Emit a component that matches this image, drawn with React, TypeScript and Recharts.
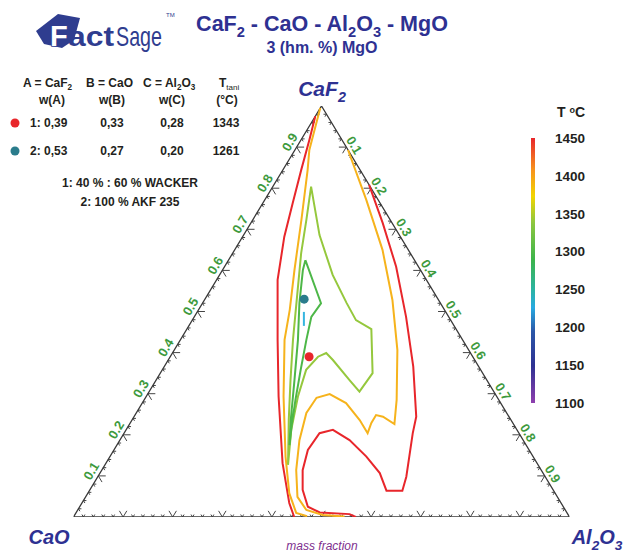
import React from 'react';
import { ComposedChart, Scatter, XAxis, YAxis, ReferenceLine, ReferenceArea } from 'recharts';

const FONT = '"Liberation Sans", Arial, Helvetica, sans-serif';

// ---- data ----
const vertexNames = ['CaF2', 'CaO', 'Al2O3'];
const tickValues = [0.1, 0.2, 0.3, 0.4, 0.5, 0.6, 0.7, 0.8, 0.9];
const tickLabels = ['0.1', '0.2', '0.3', '0.4', '0.5', '0.6', '0.7', '0.8', '0.9'];
const tempTicks = [1100, 1150, 1200, 1250, 1300, 1350, 1400, 1450];

const sampleIds = ['1', '2'];
const sampleA = [0.39, 0.53]; // w(CaF2)
const sampleB = [0.33, 0.27]; // w(CaO)
const sampleC = [0.28, 0.2]; // w(Al2O3)
const sampleT = [1343, 1261];
const sampleNotes = ['1: 40 % : 60 % WACKER', '2: 100 % AKF 235'];

// isotherms as [w(CaF2), w(Al2O3)]
const iso1450a = [[0.975, 0.0], [0.917, 0.017], [0.844, 0.037], [0.764, 0.06], [0.682, 0.084], [0.577, 0.123], [0.431, 0.196], [0.293, 0.267], [0.131, 0.356], [0.034, 0.418], [0.0, 0.445]];
const iso1450b = [[0.0, 0.569], [0.007, 0.553], [0.011, 0.491], [0.025, 0.46], [0.066, 0.429], [0.114, 0.405], [0.163, 0.391], [0.204, 0.394], [0.212, 0.417], [0.187, 0.463], [0.147, 0.517], [0.107, 0.564], [0.064, 0.599], [0.064, 0.631], [0.098, 0.622], [0.204, 0.582], [0.244, 0.569], [0.366, 0.502], [0.487, 0.427], [0.609, 0.346], [0.715, 0.266], [0.808, 0.192]];
const iso1400a = [[0.995, 0.0], [0.893, 0.029], [0.844, 0.05], [0.723, 0.098], [0.601, 0.145], [0.504, 0.184], [0.431, 0.21], [0.293, 0.277], [0.147, 0.354], [0.058, 0.406], [0.01, 0.444], [0.002, 0.47]];
const iso1400b = [[0.001, 0.546], [0.005, 0.5], [0.017, 0.461], [0.049, 0.427], [0.114, 0.392], [0.187, 0.362], [0.253, 0.343], [0.29, 0.345], [0.299, 0.367], [0.277, 0.411], [0.236, 0.459], [0.204, 0.491], [0.229, 0.486], [0.248, 0.486], [0.244, 0.502], [0.226, 0.534], [0.285, 0.509], [0.406, 0.45], [0.528, 0.379], [0.65, 0.298], [0.771, 0.205], [0.893, 0.107]];
const iso1350 = [[0.127, 0.369], [0.236, 0.316], [0.333, 0.271], [0.431, 0.227], [0.521, 0.189], [0.642, 0.138], [0.723, 0.108], [0.804, 0.077], [0.686, 0.153], [0.589, 0.228], [0.521, 0.29], [0.479, 0.33], [0.457, 0.372], [0.35, 0.428], [0.305, 0.424], [0.333, 0.39], [0.382, 0.332], [0.399, 0.31], [0.39, 0.298], [0.358, 0.29], [0.293, 0.306], [0.212, 0.333], [0.127, 0.369]];
const iso1300 = [[0.625, 0.155], [0.52, 0.239], [0.487, 0.236], [0.431, 0.254], [0.358, 0.279], [0.285, 0.305], [0.224, 0.328], [0.175, 0.348], [0.236, 0.32], [0.333, 0.279], [0.431, 0.237], [0.521, 0.195], [0.601, 0.162], [0.625, 0.155]];
const iso1250 = [[0.499, 0.215], [0.465, 0.232]];

// ---- styles ----
const isoStyles = [
  { data: iso1450a, color: '#e8262b' },
  { data: iso1450b, color: '#e8262b' },
  { data: iso1400a, color: '#f6b31c' },
  { data: iso1400b, color: '#f6b31c' },
  { data: iso1350, color: '#95c83d' },
  { data: iso1300, color: '#4db748' },
  { data: iso1250, color: '#35b5e0' },
];
const sampleColors = ['#e8262b', '#2a7c8c'];
const BLUE = '#2e3192';
const LOGO = '#2f3d8f';
const GREEN = '#3d9a3d';

// ternary (A = CaF2, C = Al2O3) -> cartesian
const toXY = (a: number, c: number) => ({ x: c + a / 2, y: a });

const triangle = [toXY(1, 0), toXY(0, 0), toXY(0, 1), toXY(1, 0)];

type Seg = [{ x: number; y: number }, { x: number; y: number }];
function buildTicks(): Seg[] {
  const segs: Seg[] = [];
  for (let i = 1; i < 50; i++) {
    const v = i / 50;
    const major = i % 5 === 0;
    const L = major ? 0.015 : 0.006;
    const bx = 1 - v;
    segs.push([{ x: bx, y: 0 }, { x: bx + L / 2, y: L }]);
    segs.push([{ x: bx, y: 0 }, { x: bx - L / 2, y: L }]);
    const lx = v / 2;
    segs.push([{ x: lx, y: v }, { x: lx + L, y: v }]);
    segs.push([{ x: lx, y: v }, { x: lx + L / 2, y: v - L }]);
    const rx = v + (1 - v) / 2;
    const ry = 1 - v;
    segs.push([{ x: rx, y: ry }, { x: rx - L, y: ry }]);
    segs.push([{ x: rx, y: ry }, { x: rx - L / 2, y: ry - L }]);
  }
  return segs;
}
const tickSegs = buildTicks();

const labelPoints = [
  ...tickValues.map((v, i) => ({ ...toXY(v, 0), label: tickLabels[i], side: 'left' })),
  ...tickValues.map((v, i) => ({ ...toXY(1 - v, v), label: tickLabels[i], side: 'right' })),
  ...tickValues.map((v, i) => ({ ...toXY(0, 1 - v), label: tickLabels[i], side: 'bottom' })),
];
const labelOffsets: Record<string, { dx: number; dy: number; angle: number }> = {
  left: { dx: -7, dy: -5, angle: -59 },
  right: { dx: 8, dy: -2, angle: 59 },
  bottom: { dx: 0, dy: 14, angle: 0 },
};

const Empty = () => null;

const TickLabel = (props: any) => {
  const { cx, cy, payload } = props;
  if (cx == null || !payload) return null;
  const o = labelOffsets[payload.side];
  const x = cx + o.dx;
  const y = cy + o.dy;
  return (
    <text x={x} y={y} transform={`rotate(${o.angle} ${x} ${y})`} textAnchor="middle" dominantBaseline="central"
      fill={GREEN} fontSize={13} fontWeight="bold" fontFamily={FONT}>{payload.label}</text>
  );
};

const makeDot = (color: string) => (props: any) => {
  const { cx, cy } = props;
  if (cx == null) return null;
  return <circle cx={cx} cy={cy} r={4.5} fill={color} />;
};

function Formula({ text, fs }: { text: string; fs: number }) {
  const parts = text.split(/(\d+)/).filter((p) => p !== '');
  let prevSub = false;
  const shift = fs * 0.28;
  return (
    <>
      {parts.map((p, i) => {
        const isSub = /^\d+$/.test(p) && i > 0;
        let dy: number | undefined;
        if (isSub && !prevSub) dy = shift;
        else if (!isSub && prevSub) dy = -shift;
        prevSub = isSub;
        return <tspan key={i} dy={dy} fontSize={isSub ? fs * 0.68 : undefined}>{p}</tspan>;
      })}
    </>
  );
}

const fmt = (v: number) => v.toFixed(2).replace('.', ',');

function Overlay() {
  const tx = { fontFamily: FONT, fontWeight: 'bold' as const, fill: '#231f20', fontSize: 12 };
  return (
    <svg width={625} height={553} style={{ position: 'absolute', left: 0, top: 0, pointerEvents: 'none' }}>
      {/* logo */}
      <polygon points="36,31 58,14 80,18 74,40 62,48 44,44" fill={LOGO} />
      <text x={50} y={46} fontFamily={FONT} fontWeight="bold" fontSize={29} fill="#ffffff" stroke={LOGO} strokeWidth={1.6}
        paintOrder="stroke">F</text>
      <text x={68} y={46} fontFamily={FONT} fontWeight="bold" fontSize={27} fill={LOGO}
        textLength={46} lengthAdjust="spacingAndGlyphs">act</text>
      <text x={116} y={46} fontFamily={FONT} fontSize={28} fill={LOGO} textLength={46} lengthAdjust="spacingAndGlyphs">Sage</text>
      <text x={166} y={17} fontFamily={FONT} fontSize={6} fill={LOGO}>TM</text>

      {/* title */}
      <text x={322} y={31} textAnchor="middle" fontFamily={FONT} fontWeight="bold" fontSize={21.5} fill={BLUE}>
        <Formula text={`${vertexNames[0]} - ${vertexNames[1]} - ${vertexNames[2]} - MgO`} fs={21.5} />
      </text>
      <text x={322} y={53} textAnchor="middle" fontFamily={FONT} fontWeight="bold" fontSize={16} fill={BLUE}>3 (hm. %) MgO</text>

      {/* legend table */}
      <text x={23} y={87} {...tx}><Formula text={`A = ${vertexNames[0]}`} fs={12} /></text>
      <text x={86} y={87} {...tx}><Formula text={`B = ${vertexNames[1]}`} fs={12} /></text>
      <text x={143} y={87} {...tx}><Formula text={`C = ${vertexNames[2]}`} fs={12} /></text>
      <text x={219} y={87} {...tx}>T<tspan dy={3} fontSize={8} fontWeight="normal">tani</tspan></text>
      <text x={52} y={104} textAnchor="middle" {...tx}>w(A)</text>
      <text x={112} y={104} textAnchor="middle" {...tx}>w(B)</text>
      <text x={172} y={104} textAnchor="middle" {...tx}>w(C)</text>
      <text x={227} y={104} textAnchor="middle" {...tx}>(°C)</text>
      {sampleIds.map((id, i) => {
        const y = 127 + i * 28;
        return (
          <g key={id}>
            <circle cx={15} cy={y - 4} r={4.5} fill={sampleColors[i]} />
            <text x={30} y={y} {...tx}>{`${id}: ${fmt(sampleA[i])}`}</text>
            <text x={112} y={y} textAnchor="middle" {...tx}>{fmt(sampleB[i])}</text>
            <text x={172} y={y} textAnchor="middle" {...tx}>{fmt(sampleC[i])}</text>
            <text x={226} y={y} textAnchor="middle" {...tx}>{sampleT[i]}</text>
          </g>
        );
      })}
      {sampleNotes.map((n, i) => (
        <text key={n} x={130} y={187 + i * 19} textAnchor="middle" {...tx}>{n}</text>
      ))}

      {/* vertex labels */}
      <text x={322} y={96} textAnchor="middle" fontFamily={FONT} fontWeight="bold" fontStyle="italic" fontSize={21} fill={BLUE}>
        <Formula text={vertexNames[0]} fs={21} />
      </text>
      <text x={49} y={544} textAnchor="middle" fontFamily={FONT} fontWeight="bold" fontStyle="italic" fontSize={20} fill={BLUE}>
        <Formula text={vertexNames[1]} fs={20} />
      </text>
      <text x={597} y={544} textAnchor="middle" fontFamily={FONT} fontWeight="bold" fontStyle="italic" fontSize={20} fill={BLUE}>
        <Formula text={vertexNames[2]} fs={20} />
      </text>
      <text x={322} y={550} textAnchor="middle" fontFamily={FONT} fontStyle="italic" fontSize={12} fill="#7e2f8e">mass fraction</text>

      {/* colour bar title */}
      <text x={557} y={117} fontFamily={FONT} fontWeight="bold" fontSize={14} fill="#231f20">T <tspan dy={-4} fontSize={9}>o</tspan><tspan dy={4}>C</tspan></text>
    </svg>
  );
}

export default function App() {
  return (
    <div style={{ position: 'absolute', left: 0, top: 0, width: 625, height: 553, background: '#ffffff', overflow: 'hidden' }}>
      <div style={{ position: 'absolute', left: 0, top: 0 }}>
        <ComposedChart width={625} height={553} margin={{ top: 106, right: 55.5, bottom: 36, left: 73.5 }}>
          <XAxis type="number" dataKey="x" domain={[0, 1]} hide allowDataOverflow />
          <YAxis type="number" dataKey="y" domain={[0, 1]} hide allowDataOverflow />
          {tickSegs.map((s, i) => (
            <ReferenceLine key={i} segment={s} stroke="#444" strokeWidth={1} ifOverflow="visible" />
          ))}
          <Scatter data={triangle} fill="none" line={{ stroke: '#3a3a3a', strokeWidth: 1.3 }} shape={Empty} isAnimationActive={false} />
          {isoStyles.map((s, i) => (
            <Scatter key={i} data={s.data.map(([a, c]) => toXY(a, c))} fill="none"
              line={{ stroke: s.color, strokeWidth: 2 }} shape={Empty} isAnimationActive={false} />
          ))}
          <Scatter data={labelPoints} shape={TickLabel} isAnimationActive={false} />
          {sampleIds.map((id, i) => (
            <Scatter key={id} data={[toXY(sampleA[i], sampleC[i])]} shape={makeDot(sampleColors[i])} isAnimationActive={false} />
          ))}
        </ComposedChart>
      </div>
      <div style={{ position: 'absolute', left: 480, top: 0 }}>
        <ComposedChart width={110} height={553} margin={{ top: 138, right: 5, bottom: 150, left: 51 }}>
          <defs>
            <linearGradient id="tgrad" x1="0" y1="0" x2="0" y2="1">
              <stop offset="0" stopColor="#e8262b" />
              <stop offset="0.12" stopColor="#f7931e" />
              <stop offset="0.22" stopColor="#f2d500" />
              <stop offset="0.32" stopColor="#8dc63f" />
              <stop offset="0.46" stopColor="#3cb44b" />
              <stop offset="0.57" stopColor="#2bb3a0" />
              <stop offset="0.64" stopColor="#27aae1" />
              <stop offset="0.73" stopColor="#2b57a8" />
              <stop offset="0.86" stopColor="#2e3192" />
              <stop offset="1" stopColor="#8e3fae" />
            </linearGradient>
          </defs>
          <XAxis type="number" dataKey="x" domain={[0, 1]} hide />
          <YAxis orientation="right" type="number" dataKey="t" domain={[1100, 1450]} ticks={tempTicks} interval={0}
            axisLine={false} tickLine={false} tickSize={0} tickMargin={20} width={50}
            tick={{ fill: '#231f20', fontSize: 13.5, fontWeight: 'bold', fontFamily: FONT }} />
          <Scatter data={tempTicks.map((t) => ({ x: 0.5, t }))} shape={Empty} isAnimationActive={false} />
          <ReferenceArea y1={1100} y2={1450} fill="url(#tgrad)" fillOpacity={1} stroke="none" />
        </ComposedChart>
      </div>
      <Overlay />
    </div>
  );
}
